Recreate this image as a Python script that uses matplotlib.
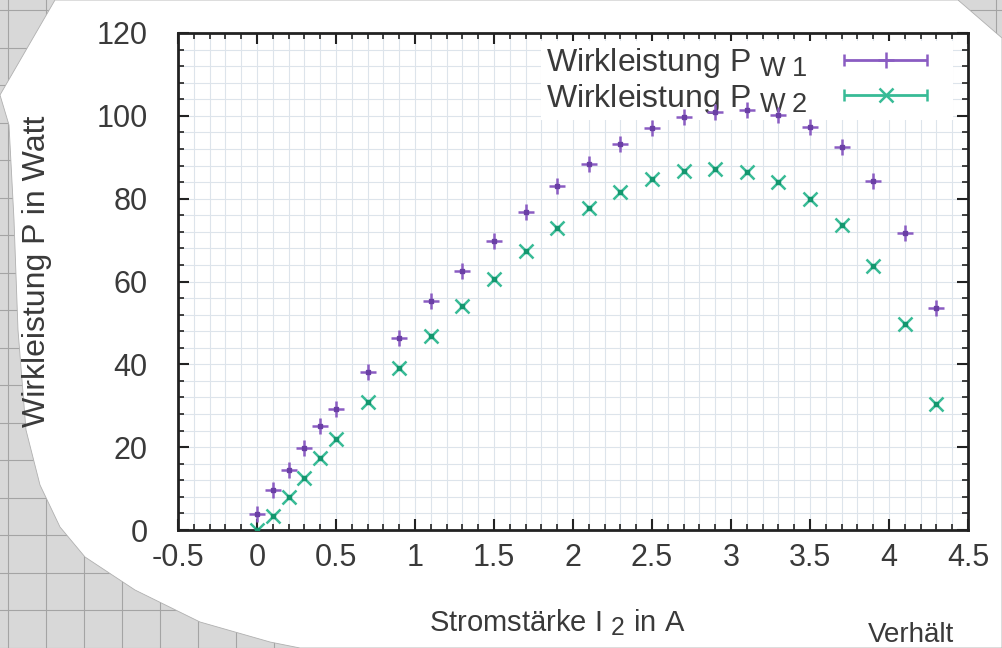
import numpy as np
import matplotlib
matplotlib.use("Agg")
import matplotlib.pyplot as plt
import matplotlib._mathtext as mathtext_impl
from matplotlib.container import ErrorbarContainer
from matplotlib.legend_handler import HandlerErrorbar
from matplotlib.patches import Polygon

# Messwerte: Stromstaerke I2 in A, Wirkleistung in W
strom = [0, 0.1, 0.2, 0.3, 0.4, 0.5, 0.7, 0.9, 1.1, 1.3, 1.5, 1.7, 1.9,
         2.1, 2.3, 2.5, 2.7, 2.9, 3.1, 3.3, 3.5, 3.7, 3.9, 4.1, 4.3]
pw1 = [3.8, 9.7, 14.6, 19.9, 25.0, 29.3, 38.1, 46.3, 55.2, 62.5, 69.8, 76.8,
       83.1, 88.4, 93.2, 97.1, 99.6, 101.0, 101.5, 100.2, 97.3, 92.4, 84.3,
       71.7, 53.6]
pw2 = [0.0, 3.3, 8.0, 12.6, 17.5, 21.9, 30.9, 39.2, 46.8, 54.2, 60.7, 67.4,
       72.8, 77.8, 81.7, 84.7, 86.6, 87.1, 86.5, 84.1, 80.0, 73.7, 63.8,
       49.8, 30.5]

xticks = [-0.5, 0, 0.5, 1, 1.5, 2, 2.5, 3, 3.5, 4, 4.5]
xticklabels = ["-0.5", "0", "0.5", "1", "1.5", "2", "2.5", "3", "3.5", "4",
               "4.5"]
yticks = [0, 20, 40, 60, 80, 100, 120]

lila = "#8a5cc2"
gruen = "#38bb96"
text_c = "#3a3a3a"

plt.rcParams["font.family"] = ["Liberation Sans", "DejaVu Sans"]
plt.rcParams["mathtext.fontset"] = "custom"
plt.rcParams["mathtext.rm"] = "Liberation Sans"
plt.rcParams["mathtext.it"] = "Liberation Sans:italic"
# Indizes fast so gross wie der Text (wie bei gnuplot enhanced)
mathtext_impl.SHRINK_FACTOR = 0.85

fig = plt.figure(figsize=(10.02, 6.48), dpi=100)

# Kariertes Papier im Hintergrund, darueber das ausgeschnittene Blatt
bg = fig.add_axes([0, 0, 1, 1], zorder=-5)
bg.set_xlim(0, 1002)
bg.set_ylim(648, 0)
bg.axis("off")
bg.add_patch(Polygon([(0, 0), (1002, 0), (1002, 648), (0, 648)],
                     closed=True, fc="#d8d8d8", ec="none", zorder=0))
for gx in np.arange(8, 1002, 38):
    bg.axvline(gx, color="#a4a4a4", lw=0.8, zorder=1)
for gy in np.arange(10, 648, 37.5):
    bg.axhline(gy, color="#a4a4a4", lw=0.8, zorder=1)
blatt = [(55, 0), (958, 0), (1002, 38), (1002, 648), (300, 648), (270, 642),
         (200, 622), (135, 590), (85, 557), (60, 527), (40, 485), (26, 430),
         (18, 330), (14, 220), (9, 125), (0, 95)]
bg.add_patch(Polygon(blatt, closed=True, fc="white", ec="#b0b0b0", lw=0.6,
                     zorder=2))
bg.text(868, 648, "Verhält", fontsize=20, color=text_c, ha="left",
        va="bottom", zorder=3)

ax = fig.add_axes([178 / 1002, 1 - 530 / 648, 790 / 1002, 497 / 648])
ax.set_facecolor("white")

ax.plot(strom, pw1, ls="none", marker="+", ms=11, mew=1.8, color=lila,
        zorder=3)
ax.plot(strom, pw1, ls="none", marker="s", ms=3, color="#6a3fa5", zorder=4)
ax.plot(strom, pw2, ls="none", marker="x", ms=10, mew=1.8, color=gruen,
        zorder=3)
ax.plot(strom, pw2, ls="none", marker="s", ms=3.5, color="#13966e", zorder=4)

# Legendensymbole im Stil von gnuplot (Fehlerbalken)
ax.errorbar([np.nan], [np.nan], xerr=[0], fmt="+", ms=11, mew=1.8,
            color=lila, elinewidth=2, capsize=4, capthick=2,
            label=r"Wirkleistung P $_{\mathrm{W\;1}}$")
ax.errorbar([np.nan], [np.nan], xerr=[0], fmt="x", ms=10, mew=1.8,
            color=gruen, elinewidth=2, capsize=4, capthick=2,
            label=r"Wirkleistung P $_{\mathrm{W\;2}}$")

ax.set_xlim(-0.5, 4.5)
ax.set_ylim(0, 120)
ax.set_xticks(xticks)
ax.set_xticklabels(xticklabels)
ax.set_yticks(yticks)
ax.set_xticks(np.arange(-0.5, 4.51, 0.1), minor=True)
ax.set_yticks(np.arange(0, 121, 4), minor=True)

ax.grid(which="both", color="#dde4eb", lw=0.8)
ax.set_axisbelow(True)

ax.tick_params(which="both", direction="in", top=True, right=True,
               colors="#222222", labelcolor=text_c, labelsize=22)
ax.tick_params(which="major", length=8, width=1.5)
ax.tick_params(which="minor", length=4, width=1.2)
ax.tick_params(axis="x", pad=9)
ax.tick_params(axis="y", pad=22)
for s in ax.spines.values():
    s.set_linewidth(2.0)
    s.set_color("#222222")

ax.set_xlabel(r"Stromstärke I $_{\mathrm{2}}$ in A", fontsize=21,
              color=text_c)
ax.xaxis.set_label_coords(0.48, -0.155)
ax.set_ylabel("Wirkleistung P in Watt", fontsize=23, color=text_c)
ax.yaxis.set_label_coords(-0.16, 0.52)

leg = ax.legend(loc="upper right", bbox_to_anchor=(0.985, 0.99),
                markerfirst=False, fontsize=23, frameon=True,
                framealpha=1, edgecolor="none", facecolor="white",
                borderpad=0.15, labelspacing=0.05, handlelength=3.9,
                handletextpad=0.5, borderaxespad=0.1, fancybox=False,
                handler_map={ErrorbarContainer: HandlerErrorbar(xerr_size=1.3)})
leg.set_zorder(2.5)
for t in leg.get_texts():
    t.set_color(text_c)

fig.savefig("out.png", dpi=100)
